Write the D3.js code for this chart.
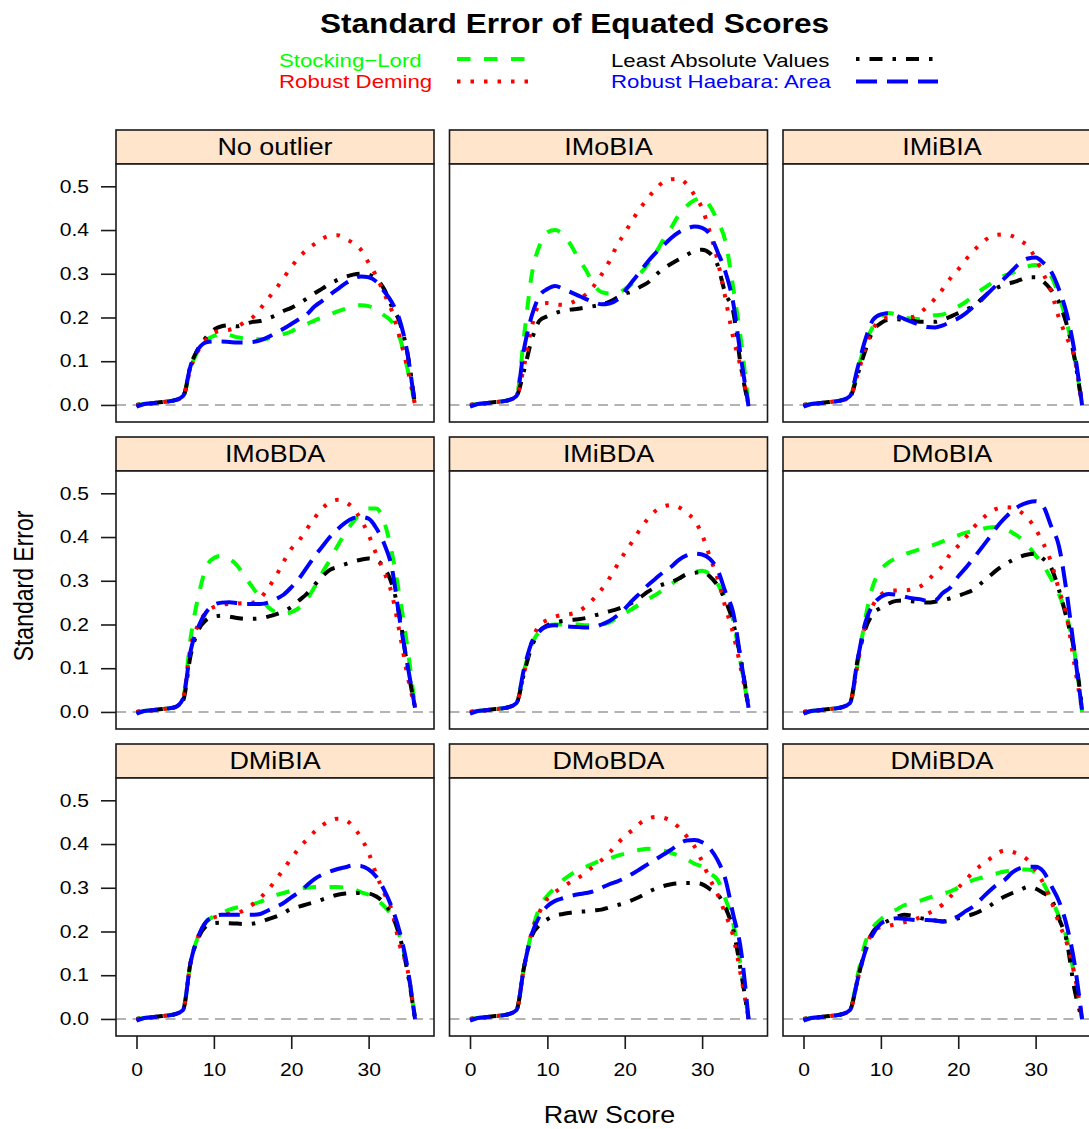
<!DOCTYPE html>
<html lang="en">
<head>
    <meta charset="UTF-8">
    <title>Standard Error of Equated Scores</title>
    <style>
        body { margin: 0; background: #fff; }
        svg { display: block; font-family: "Liberation Sans", Arial, sans-serif; }
    </style>
</head>
<body>

<svg width="1089" height="1129"></svg>

<script src="https://d3js.org/d3.v7.min.js"></script>
<script>

    // Raw scores (x) shared by every curve
    const rawScore = [0, 1, 2, 3, 4, 5, 6, 7, 8, 9, 10, 11, 12, 13, 14, 15, 16, 17, 18,
        19, 20, 21, 22, 23, 24, 25, 26, 27, 28, 29, 30, 31, 32, 33, 34, 35, 36];

    const panelNames = ['No outlier', 'IMoBIA', 'IMiBIA',
        'IMoBDA', 'IMiBDA', 'DMoBIA',
        'DMiBIA', 'DMoBDA', 'DMiBDA'];

    // order = drawing order (lattice key filled row-wise)
    const methodNames = ['Stocking\u2212Lord', 'Least Absolute Values', 'Robust Deming', 'Robust Haebara: Area'];

    const yTicks = [0, 0.1, 0.2, 0.3, 0.4, 0.5];
    const xTicks = [0, 10, 20, 30];

    // Standard errors, one row per panel (same order as panelNames)
    const seStockingLord = [
        [0, 0.002, 0.004, 0.006, 0.008, 0.011, 0.018, 0.085, 0.125, 0.148, 0.158, 0.163, 0.16, 0.155, 0.152, 0.15, 0.15, 0.152, 0.157, 0.162, 0.168, 0.178, 0.185, 0.193, 0.2, 0.207, 0.214, 0.22, 0.226, 0.228, 0.226, 0.218, 0.205, 0.19, 0.155, 0.085, 0],
        [0, 0.002, 0.004, 0.006, 0.008, 0.011, 0.02, 0.16, 0.3, 0.365, 0.395, 0.4, 0.39, 0.367, 0.335, 0.308, 0.275, 0.258, 0.255, 0.255, 0.265, 0.278, 0.3, 0.322, 0.348, 0.378, 0.405, 0.435, 0.455, 0.468, 0.473, 0.455, 0.42, 0.375, 0.27, 0.15, 0],
        [0, 0.002, 0.004, 0.006, 0.008, 0.011, 0.018, 0.08, 0.14, 0.18, 0.203, 0.21, 0.207, 0.2, 0.198, 0.196, 0.2, 0.205, 0.207, 0.215, 0.225, 0.236, 0.25, 0.263, 0.275, 0.287, 0.296, 0.302, 0.31, 0.317, 0.32, 0.312, 0.295, 0.25, 0.19, 0.11, 0],
        [0, 0.002, 0.004, 0.006, 0.008, 0.011, 0.03, 0.17, 0.265, 0.33, 0.352, 0.357, 0.35, 0.335, 0.31, 0.285, 0.262, 0.24, 0.228, 0.224, 0.228, 0.238, 0.257, 0.285, 0.318, 0.348, 0.38, 0.41, 0.435, 0.455, 0.465, 0.465, 0.435, 0.365, 0.265, 0.15, 0.01],
        [0, 0.002, 0.004, 0.006, 0.008, 0.011, 0.02, 0.095, 0.155, 0.185, 0.197, 0.2, 0.2, 0.2, 0.2, 0.198, 0.198, 0.2, 0.205, 0.215, 0.226, 0.236, 0.247, 0.258, 0.268, 0.28, 0.292, 0.305, 0.315, 0.32, 0.323, 0.315, 0.293, 0.26, 0.21, 0.11, 0.01],
        [0, 0.002, 0.004, 0.006, 0.008, 0.011, 0.02, 0.11, 0.215, 0.29, 0.325, 0.342, 0.352, 0.36, 0.366, 0.372, 0.378, 0.383, 0.39, 0.397, 0.404, 0.41, 0.414, 0.418, 0.422, 0.423, 0.418, 0.41, 0.398, 0.38, 0.358, 0.335, 0.305, 0.27, 0.22, 0.14, 0],
        [0, 0.002, 0.004, 0.006, 0.008, 0.011, 0.02, 0.13, 0.19, 0.222, 0.235, 0.242, 0.25, 0.255, 0.258, 0.262, 0.268, 0.276, 0.283, 0.288, 0.293, 0.297, 0.3, 0.302, 0.302, 0.302, 0.302, 0.3, 0.297, 0.29, 0.284, 0.273, 0.258, 0.235, 0.19, 0.115, 0],
        [0, 0.002, 0.004, 0.006, 0.008, 0.011, 0.02, 0.12, 0.2, 0.255, 0.282, 0.3, 0.317, 0.33, 0.34, 0.348, 0.356, 0.362, 0.367, 0.373, 0.378, 0.383, 0.387, 0.389, 0.388, 0.385, 0.38, 0.373, 0.365, 0.355, 0.348, 0.333, 0.318, 0.275, 0.22, 0.12, 0],
        [0, 0.002, 0.004, 0.006, 0.008, 0.011, 0.02, 0.1, 0.175, 0.21, 0.228, 0.24, 0.25, 0.26, 0.265, 0.27, 0.276, 0.281, 0.286, 0.292, 0.3, 0.31, 0.318, 0.323, 0.328, 0.333, 0.337, 0.34, 0.342, 0.342, 0.335, 0.31, 0.275, 0.235, 0.185, 0.1, 0]
    ];

    const seLeastAbsolute = [
        [0, 0.002, 0.004, 0.006, 0.008, 0.011, 0.018, 0.09, 0.13, 0.155, 0.172, 0.18, 0.182, 0.18, 0.185, 0.19, 0.192, 0.198, 0.205, 0.215, 0.222, 0.232, 0.243, 0.255, 0.266, 0.277, 0.286, 0.293, 0.298, 0.3, 0.298, 0.288, 0.265, 0.225, 0.19, 0.12, 0],
        [0, 0.002, 0.004, 0.006, 0.008, 0.011, 0.02, 0.08, 0.15, 0.193, 0.203, 0.21, 0.215, 0.218, 0.22, 0.223, 0.226, 0.23, 0.236, 0.245, 0.254, 0.26, 0.27, 0.28, 0.297, 0.312, 0.323, 0.333, 0.343, 0.352, 0.355, 0.347, 0.32, 0.255, 0.215, 0.09, 0],
        [0, 0.002, 0.004, 0.006, 0.008, 0.011, 0.018, 0.07, 0.125, 0.17, 0.187, 0.195, 0.196, 0.195, 0.193, 0.19, 0.19, 0.19, 0.195, 0.202, 0.21, 0.218, 0.227, 0.242, 0.258, 0.268, 0.275, 0.28, 0.286, 0.292, 0.292, 0.282, 0.263, 0.235, 0.185, 0.11, 0],
        [0, 0.002, 0.004, 0.006, 0.008, 0.011, 0.025, 0.13, 0.187, 0.21, 0.218, 0.22, 0.218, 0.215, 0.213, 0.213, 0.214, 0.218, 0.223, 0.23, 0.24, 0.255, 0.27, 0.29, 0.31, 0.325, 0.332, 0.338, 0.344, 0.348, 0.351, 0.347, 0.33, 0.293, 0.22, 0.105, 0.01],
        [0, 0.002, 0.004, 0.006, 0.008, 0.011, 0.02, 0.09, 0.15, 0.185, 0.198, 0.204, 0.208, 0.21, 0.212, 0.215, 0.22, 0.225, 0.23, 0.235, 0.242, 0.25, 0.262, 0.275, 0.285, 0.292, 0.297, 0.305, 0.315, 0.318, 0.32, 0.31, 0.289, 0.255, 0.205, 0.12, 0.01],
        [0, 0.002, 0.004, 0.006, 0.008, 0.011, 0.02, 0.12, 0.19, 0.225, 0.238, 0.248, 0.254, 0.255, 0.253, 0.251, 0.25, 0.252, 0.256, 0.26, 0.266, 0.272, 0.28, 0.295, 0.31, 0.325, 0.337, 0.347, 0.355, 0.36, 0.362, 0.35, 0.33, 0.28, 0.215, 0.14, 0.01],
        [0, 0.002, 0.004, 0.006, 0.008, 0.011, 0.02, 0.13, 0.185, 0.212, 0.219, 0.22, 0.219, 0.218, 0.217, 0.218, 0.222, 0.228, 0.234, 0.242, 0.252, 0.257, 0.262, 0.267, 0.273, 0.279, 0.284, 0.287, 0.288, 0.288, 0.287, 0.28, 0.265, 0.238, 0.19, 0.11, 0],
        [0, 0.002, 0.004, 0.006, 0.008, 0.011, 0.02, 0.12, 0.19, 0.215, 0.228, 0.236, 0.24, 0.243, 0.245, 0.246, 0.248, 0.25, 0.255, 0.26, 0.265, 0.272, 0.28, 0.29, 0.298, 0.304, 0.308, 0.31, 0.311, 0.311, 0.308, 0.297, 0.285, 0.255, 0.205, 0.11, 0],
        [0, 0.002, 0.004, 0.006, 0.008, 0.011, 0.02, 0.09, 0.16, 0.2, 0.215, 0.225, 0.233, 0.238, 0.236, 0.231, 0.228, 0.225, 0.223, 0.225, 0.23, 0.235, 0.24, 0.248, 0.258, 0.27, 0.28, 0.288, 0.295, 0.302, 0.298, 0.288, 0.275, 0.23, 0.18, 0.07, 0]
    ];

    const seRobustDeming = [
        [0, 0.002, 0.004, 0.006, 0.008, 0.011, 0.018, 0.085, 0.125, 0.15, 0.165, 0.17, 0.172, 0.178, 0.19, 0.2, 0.22, 0.243, 0.265, 0.29, 0.315, 0.337, 0.355, 0.368, 0.38, 0.387, 0.388, 0.38, 0.37, 0.355, 0.325, 0.294, 0.255, 0.215, 0.155, 0.085, 0],
        [0, 0.002, 0.004, 0.006, 0.008, 0.011, 0.02, 0.09, 0.18, 0.23, 0.233, 0.23, 0.229, 0.233, 0.242, 0.253, 0.272, 0.298, 0.328, 0.365, 0.393, 0.423, 0.45, 0.473, 0.494, 0.51, 0.516, 0.517, 0.505, 0.48, 0.45, 0.395, 0.33, 0.245, 0.155, 0.085, 0],
        [0, 0.002, 0.004, 0.006, 0.008, 0.011, 0.018, 0.07, 0.13, 0.175, 0.193, 0.2, 0.2, 0.2, 0.201, 0.21, 0.225, 0.243, 0.265, 0.29, 0.31, 0.333, 0.353, 0.37, 0.383, 0.389, 0.39, 0.386, 0.376, 0.363, 0.335, 0.3, 0.26, 0.2, 0.155, 0.11, 0],
        [0, 0.002, 0.004, 0.006, 0.008, 0.011, 0.03, 0.15, 0.2, 0.228, 0.24, 0.245, 0.247, 0.248, 0.249, 0.25, 0.26, 0.283, 0.31, 0.343, 0.373, 0.392, 0.418, 0.443, 0.465, 0.48, 0.485, 0.48, 0.466, 0.44, 0.405, 0.36, 0.32, 0.27, 0.182, 0.085, 0.01],
        [0, 0.002, 0.004, 0.006, 0.008, 0.011, 0.02, 0.09, 0.16, 0.2, 0.21, 0.218, 0.222, 0.224, 0.23, 0.242, 0.259, 0.28, 0.305, 0.335, 0.364, 0.39, 0.418, 0.442, 0.46, 0.47, 0.473, 0.468, 0.455, 0.439, 0.405, 0.355, 0.305, 0.24, 0.18, 0.1, 0.01],
        [0, 0.002, 0.004, 0.006, 0.008, 0.011, 0.02, 0.11, 0.2, 0.245, 0.268, 0.277, 0.278, 0.278, 0.28, 0.286, 0.3, 0.318, 0.335, 0.362, 0.38, 0.4, 0.422, 0.44, 0.455, 0.465, 0.468, 0.467, 0.458, 0.443, 0.418, 0.385, 0.343, 0.28, 0.22, 0.11, 0.005],
        [0, 0.002, 0.004, 0.006, 0.008, 0.011, 0.02, 0.13, 0.19, 0.222, 0.232, 0.236, 0.24, 0.242, 0.25, 0.262, 0.277, 0.295, 0.318, 0.342, 0.367, 0.39, 0.41, 0.428, 0.443, 0.453, 0.458, 0.455, 0.44, 0.415, 0.38, 0.33, 0.288, 0.248, 0.17, 0.115, 0],
        [0, 0.002, 0.004, 0.006, 0.008, 0.011, 0.02, 0.12, 0.2, 0.245, 0.275, 0.29, 0.302, 0.313, 0.323, 0.335, 0.35, 0.363, 0.38, 0.4, 0.418, 0.432, 0.448, 0.458, 0.462, 0.46, 0.452, 0.438, 0.418, 0.395, 0.36, 0.32, 0.285, 0.24, 0.19, 0.1, 0],
        [0, 0.002, 0.004, 0.006, 0.008, 0.011, 0.02, 0.09, 0.16, 0.2, 0.21, 0.213, 0.217, 0.221, 0.225, 0.232, 0.24, 0.25, 0.262, 0.28, 0.3, 0.318, 0.338, 0.352, 0.365, 0.378, 0.385, 0.382, 0.375, 0.363, 0.34, 0.31, 0.27, 0.22, 0.175, 0.105, 0]
    ];

    const seRobustHaebara = [
        [-0.004, 0.002, 0.004, 0.006, 0.008, 0.011, 0.02, 0.09, 0.128, 0.143, 0.145, 0.145, 0.144, 0.143, 0.143, 0.144, 0.148, 0.155, 0.165, 0.174, 0.185, 0.196, 0.207, 0.225, 0.238, 0.252, 0.265, 0.278, 0.288, 0.294, 0.292, 0.282, 0.26, 0.235, 0.195, 0.12, -0.004],
        [-0.004, 0.002, 0.004, 0.006, 0.008, 0.011, 0.02, 0.13, 0.205, 0.25, 0.265, 0.272, 0.266, 0.258, 0.25, 0.242, 0.235, 0.23, 0.232, 0.24, 0.26, 0.283, 0.305, 0.328, 0.348, 0.365, 0.382, 0.395, 0.403, 0.408, 0.405, 0.39, 0.35, 0.305, 0.235, 0.11, -0.003],
        [-0.004, 0.002, 0.004, 0.006, 0.008, 0.011, 0.02, 0.085, 0.15, 0.195, 0.207, 0.21, 0.204, 0.197, 0.19, 0.183, 0.178, 0.177, 0.182, 0.19, 0.198, 0.21, 0.225, 0.24, 0.258, 0.275, 0.29, 0.308, 0.325, 0.335, 0.337, 0.325, 0.305, 0.265, 0.21, 0.125, 0],
        [-0.004, 0.002, 0.004, 0.006, 0.008, 0.011, 0.03, 0.14, 0.195, 0.228, 0.245, 0.25, 0.251, 0.249, 0.247, 0.247, 0.247, 0.25, 0.258, 0.268, 0.285, 0.305, 0.33, 0.355, 0.378, 0.4, 0.418, 0.433, 0.443, 0.446, 0.442, 0.42, 0.385, 0.33, 0.213, 0.11, 0.01],
        [-0.004, 0.002, 0.004, 0.006, 0.008, 0.011, 0.02, 0.1, 0.16, 0.185, 0.196, 0.198, 0.196, 0.195, 0.194, 0.193, 0.194, 0.2, 0.208, 0.22, 0.236, 0.255, 0.272, 0.29, 0.305, 0.32, 0.332, 0.348, 0.358, 0.362, 0.36, 0.35, 0.325, 0.275, 0.228, 0.12, 0.01],
        [-0.004, 0.002, 0.004, 0.006, 0.008, 0.011, 0.02, 0.12, 0.205, 0.245, 0.263, 0.27, 0.268, 0.264, 0.26, 0.258, 0.254, 0.255, 0.272, 0.285, 0.31, 0.33, 0.352, 0.375, 0.398, 0.423, 0.443, 0.46, 0.472, 0.479, 0.482, 0.47, 0.425, 0.38, 0.275, 0.14, 0.005],
        [-0.004, 0.002, 0.004, 0.006, 0.008, 0.011, 0.02, 0.13, 0.19, 0.222, 0.234, 0.238, 0.238, 0.238, 0.238, 0.238, 0.24, 0.248, 0.256, 0.265, 0.278, 0.29, 0.305, 0.32, 0.33, 0.337, 0.343, 0.347, 0.351, 0.35, 0.342, 0.325, 0.295, 0.255, 0.2, 0.12, 0],
        [-0.004, 0.002, 0.004, 0.006, 0.008, 0.011, 0.02, 0.12, 0.195, 0.235, 0.258, 0.27, 0.276, 0.281, 0.285, 0.288, 0.292, 0.3, 0.308, 0.314, 0.322, 0.332, 0.343, 0.354, 0.365, 0.376, 0.387, 0.4, 0.408, 0.409, 0.404, 0.39, 0.363, 0.32, 0.24, 0.16, 0],
        [-0.004, 0.002, 0.004, 0.006, 0.008, 0.011, 0.02, 0.09, 0.155, 0.195, 0.218, 0.226, 0.23, 0.229, 0.227, 0.226, 0.226, 0.225, 0.223, 0.228, 0.235, 0.247, 0.258, 0.275, 0.292, 0.307, 0.318, 0.335, 0.345, 0.348, 0.348, 0.337, 0.305, 0.27, 0.215, 0.13, 0]
    ];

    const seByMethod = [seStockingLord, seLeastAbsolute, seRobustDeming, seRobustHaebara];

    // Styling per method (lattice superpose style)
    const methodColors = ['#00ff00', '#000000', '#ff0000', '#0000ff'];
    const methodDash = ['13.5,13.5', '3.5,10,13,10', '3.5,10', '21,10'];

    // The reference is a bit wider than tall, so text is stretched sideways
    const textStretch = 1.17;

    const stretch = function (sel) {
        sel.each(function () {
            const w = this.getComputedTextLength();
            d3.select(this)
                .attr('textLength', w * textStretch)
                .attr('lengthAdjust', 'spacingAndGlyphs');
        });
    };

    const svg = d3.select('svg');

    // Layout of the 3 x 3 lattice
    const panelW = 318;
    const plotH = 258;
    const stripH = 34;
    const colLeft = [116, 449.5, 783];
    const rowTop = [130, 437, 744];

    const xScale = d3.scaleLinear().domain([-2.65, 38.45]).range([0, panelW]);
    const yScale = d3.scaleLinear().domain([-0.039, 0.551]).range([plotH, 0]);

    const line = d3.line()
        .x(function (d, i) { return xScale(rawScore[i]); })
        .y(function (d) { return yScale(d); })
        .curve(d3.curveMonotoneX);

    panelNames.forEach(function (name, p) {
        const row = Math.floor(p / 3);
        const col = p % 3;

        const g = svg.append('g')
            .attr('transform', 'translate(' + colLeft[col] + ' ' + rowTop[row] + ')');

        // strip
        g.append('rect')
            .attr('width', panelW)
            .attr('height', stripH)
            .attr('fill', '#ffe5cc')
            .attr('stroke', '#1a1a1a')
            .attr('stroke-width', 1.6);

        g.append('text')
            .attr('class', 'wide')
            .attr('x', panelW / 2)
            .attr('y', stripH / 2 + 8.3)
            .attr('text-anchor', 'middle')
            .attr('font-size', 23)
            .attr('fill', '#000')
            .text(name);

        const plot = g.append('g')
            .attr('transform', 'translate(0 ' + stripH + ')');

        plot.append('rect')
            .attr('width', panelW)
            .attr('height', plotH)
            .attr('fill', '#fff');

        // reference line at zero
        plot.append('line')
            .attr('x1', 0)
            .attr('x2', panelW)
            .attr('y1', yScale(0))
            .attr('y2', yScale(0))
            .attr('stroke', '#b3b3b3')
            .attr('stroke-width', 2)
            .attr('stroke-dasharray', '10,6.5');

        seByMethod.forEach(function (series, m) {
            plot.append('path')
                .datum(series[p])
                .attr('d', line)
                .attr('fill', 'none')
                .attr('stroke', methodColors[m])
                .attr('stroke-width', 4)
                .attr('stroke-dasharray', methodDash[m])
                .attr('stroke-linejoin', 'round');
        });

        plot.append('rect')
            .attr('width', panelW)
            .attr('height', plotH)
            .attr('fill', 'none')
            .attr('stroke', '#1a1a1a')
            .attr('stroke-width', 1.6);

        if (col === 0) {
            const yAxisG = plot.append('g')
                .call(d3.axisLeft(yScale)
                    .tickValues(yTicks)
                    .tickFormat(d3.format('.1f'))
                    .tickSize(15)
                    .tickPadding(12));
            yAxisG.select('.domain').remove();
            yAxisG.selectAll('.tick line').attr('stroke', '#1a1a1a').attr('stroke-width', 1.6);
            yAxisG.selectAll('.tick text')
                .attr('font-size', 18)
                .attr('font-family', '"Liberation Sans", Arial, sans-serif')
                .attr('fill', '#000')
                .call(stretch);
        }

        if (row === 2) {
            const xAxisG = plot.append('g')
                .attr('transform', 'translate(0 ' + plotH + ')')
                .call(d3.axisBottom(xScale)
                    .tickValues(xTicks)
                    .tickSize(13)
                    .tickPadding(14));
            xAxisG.select('.domain').remove();
            xAxisG.selectAll('.tick line').attr('stroke', '#1a1a1a').attr('stroke-width', 1.6);
            xAxisG.selectAll('.tick text')
                .attr('font-size', 18)
                .attr('font-family', '"Liberation Sans", Arial, sans-serif')
                .attr('fill', '#000')
                .call(stretch);
        }
    });

    // Title
    svg.append('text')
        .attr('class', 'wide')
        .attr('x', 574.5)
        .attr('y', 33)
        .attr('text-anchor', 'middle')
        .attr('font-size', 27)
        .attr('font-weight', 'bold')
        .text('Standard Error of Equated Scores');

    // Key: two columns, filled row-wise
    const keyTextX = [279, 611];
    const keyLineX = [[457, 531], [856, 938]];
    const keyBase = [66.5, 87.5];
    const keyLineY = [59, 81.5];

    methodNames.forEach(function (name, m) {
        const c = m % 2;
        const r = Math.floor(m / 2);

        svg.append('text')
            .attr('class', 'wide')
            .attr('x', keyTextX[c])
            .attr('y', keyBase[r])
            .attr('font-size', 19)
            .attr('fill', methodColors[m])
            .text(name);

        svg.append('line')
            .attr('x1', keyLineX[c][0])
            .attr('x2', keyLineX[c][1])
            .attr('y1', keyLineY[r])
            .attr('y2', keyLineY[r])
            .attr('stroke', methodColors[m])
            .attr('stroke-width', 4)
            .attr('stroke-dasharray', methodDash[m]);
    });

    // Axis titles
    svg.append('text')
        .attr('class', 'wide')
        .attr('x', 609.5)
        .attr('y', 1122.5)
        .attr('text-anchor', 'middle')
        .attr('font-size', 23)
        .text('Raw Score');

    svg.append('text')
        .attr('transform', 'translate(33 586) scale(' + textStretch + ' 1) rotate(-90)')
        .attr('text-anchor', 'middle')
        .attr('font-size', 23)
        .text('Standard Error');

    svg.selectAll('text.wide').call(stretch);

</script>

</body>
</html>
